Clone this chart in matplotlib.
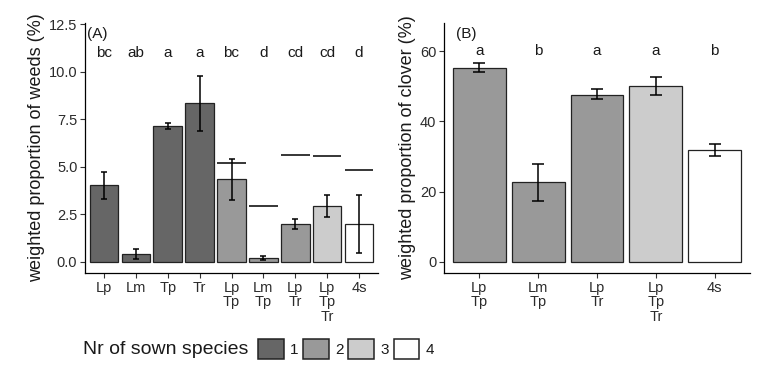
import numpy as np
import matplotlib
matplotlib.use("Agg")
import matplotlib.pyplot as plt
from matplotlib.patches import Patch

plt.rcParams['font.family'] = ['Liberation Sans', 'DejaVu Sans']

# panel A - weeds
weed_labels = ['Lp', 'Lm', 'Tp', 'Tr', 'Lp\nTp', 'Lm\nTp', 'Lp\nTr', 'Lp\nTp\nTr', '4s']
weed_nr = [1, 1, 1, 1, 2, 2, 2, 3, 4]
weed_mean = [4.03, 0.40, 7.14, 8.34, 4.34, 0.19, 1.97, 2.93, 2.01]
weed_lo = [3.31, 0.14, 6.99, 6.88, 3.26, 0.08, 1.73, 2.37, 0.47]
weed_hi = [4.75, 0.66, 7.29, 9.79, 5.43, 0.28, 2.24, 3.49, 3.49]
weed_expect = [None, None, None, None, 5.20, 2.94, 5.62, 5.59, 4.83]
weed_letters = ['bc', 'ab', 'a', 'a', 'bc', 'd', 'cd', 'cd', 'd']

# panel B - clover
clov_labels = ['Lp\nTp', 'Lm\nTp', 'Lp\nTr', 'Lp\nTp\nTr', '4s']
clov_nr = [2, 2, 2, 3, 4]
clov_mean = [55.3, 22.8, 47.7, 50.1, 31.9]
clov_lo = [54.2, 17.4, 46.4, 47.6, 30.2]
clov_hi = [56.8, 27.8, 49.2, 52.7, 33.6]
clov_letters = ['a', 'b', 'a', 'a', 'b']

nr_colors = {1: '#666666', 2: '#999999', 3: '#cccccc', 4: '#ffffff'}
txt = '#1a1a1a'
tick_txt = '#2b2b2b'

fig = plt.figure(figsize=(7.68, 3.78), dpi=100)
axA = fig.add_axes([85/768, 1-273/378, (378-85)/768, 250/378])
axB = fig.add_axes([444/768, 1-273/378, (750-444)/768, 250/378])


def panel(ax, labels, nr, mean, lo, hi, letters, let_y, tag, tag_y, ylim, yticks, ylabel, capsize):
    x = np.arange(1, len(labels) + 1)
    cols = [nr_colors[n] for n in nr]
    ax.bar(x, mean, width=0.9, color=cols, edgecolor='#222222', linewidth=0.9, zorder=2)
    m = np.array(mean)
    err = [m - np.array(lo), np.array(hi) - m]
    ax.errorbar(x, mean, yerr=err, fmt='none', ecolor='black', elinewidth=1.1,
                capsize=capsize, capthick=1.1, zorder=3)
    for xi, l in zip(x, letters):
        ax.text(xi, let_y, l, ha='center', va='center', fontsize=11, color=txt)
    ax.text(0.78, tag_y, tag, ha='center', va='center', fontsize=11, color=txt)
    ax.set_xlim(0.4, len(labels) + 0.6)
    ax.set_ylim(*ylim)
    ax.set_yticks(yticks)
    ax.set_xticks(x)
    ax.set_xticklabels(labels, fontsize=10.5, color=tick_txt, linespacing=1.05)
    ax.tick_params(axis='y', labelsize=10.5, labelcolor=tick_txt)
    ax.tick_params(length=3.5, width=0.8, color='#333333', pad=2)
    ax.set_ylabel(ylabel, fontsize=13, color=txt, labelpad=3)
    for s in ['top', 'right']:
        ax.spines[s].set_visible(False)
    for s in ['left', 'bottom']:
        ax.spines[s].set_linewidth(0.9)
    return x


xA = panel(axA, weed_labels, weed_nr, weed_mean, weed_lo, weed_hi, weed_letters, 11, '(A)', 12,
           (-0.59, 12.57), [0, 2.5, 5, 7.5, 10, 12.5], 'weighted proportion of weeds (%)', 2.3)
axA.set_yticklabels(['0.0', '2.5', '5.0', '7.5', '10.0', '12.5'])
for xi, e in zip(xA, weed_expect):
    if e is not None:
        axA.hlines(e, xi - 0.45, xi + 0.45, color='black', linewidth=1.1, zorder=3)

panel(axB, clov_labels, clov_nr, clov_mean, clov_lo, clov_hi, clov_letters, 60, '(B)', 65,
      (-3.22, 68.1), [0, 20, 40, 60], 'weighted proportion of clover (%)', 4.2)

# legend
handles = [Patch(facecolor=nr_colors[k], edgecolor='#222222', linewidth=1.1) for k in [1, 2, 3, 4]]
fig.text(248/768, 1-349/378, 'Nr of sown species', ha='right', va='center', fontsize=14, color=txt)
fig.legend(handles, ['1', '2', '3', '4'], ncol=4, loc='center left', bbox_to_anchor=(258/768, 1-349/378),
           frameon=False, fontsize=11, handlelength=1.7, handleheight=1.7, handletextpad=0.4,
           columnspacing=0.3, borderpad=0, borderaxespad=0, labelcolor=txt)

fig.savefig('out.png', dpi=100)
